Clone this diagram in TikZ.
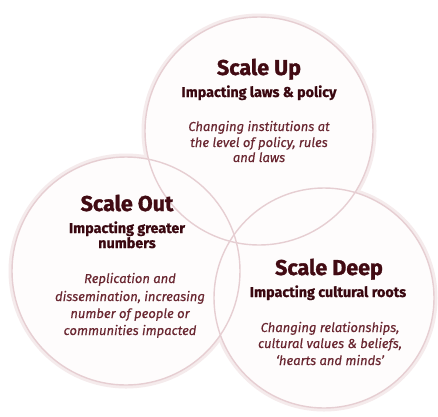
\documentclass[tikz,border=0pt]{standalone}
\usepackage{fontspec}
\setmainfont{Fira Sans}
\newfontfamily\ttlfont{Fira Sans}[FakeBold=1.3]
\newfontfamily\subfont{Fira Sans}[FakeBold=0.8]
\newfontfamily\itfont{Fira Sans}[FakeBold=0.3]
\definecolor{ringc}{HTML}{E6CED2}
\definecolor{glowc}{HTML}{F5EBEC}
\definecolor{fillc}{HTML}{FEFCFC}
\definecolor{titlec}{HTML}{420B13}
\definecolor{subc}{HTML}{3A0810}
\definecolor{itc}{HTML}{6A2731}
\begin{document}
\begin{tikzpicture}[x=1pt,y=-1pt,
  ring/.style={draw=ringc,line width=1.4pt},
  glow/.style={draw=glowc,line width=4pt},
  ttl/.style={font=\ttlfont\bfseries\fontsize{21.5}{22}\selectfont,text=titlec,inner sep=0pt,anchor=base},
  sub/.style={font=\subfont\bfseries\fontsize{14.3}{15}\selectfont,text=subc,inner sep=0pt,anchor=base,align=center},
  itl/.style={font=\itfont\itshape\fontsize{13}{16.8}\selectfont,text=itc,inner sep=0pt,anchor=base,align=center}]
\useasboundingbox[fill=white] (0,0) rectangle (438,416);
% circles
\coordinate (cu) at (259,131);
\coordinate (co) at (126,271);
\coordinate (cd) at (324,298);
\foreach \c/\r in {cu/114,co/114,cd/110}{
  \draw[glow] (\c) circle[radius=\r+1.5];
}
\foreach \c/\r in {cu/114,co/114,cd/110}{
  \fill[fillc] (\c) circle[radius=\r];
}
\foreach \c/\r in {cu/114,co/114,cd/110}{
  \draw[ring] (\c) circle[radius=\r];
}
% Scale Up
\node[ttl] (tu) at (259,75) {Scale Up};
\node[sub] (su) at (259,97) {Impacting laws \& policy};
\node[itl] (iu) at (259,131) {Changing institutions at};
\node[itl] (iu2) at (259,147) {the level of policy, rules};
\node[itl] (iu3) at (259,162) {and laws};
% Scale Out
\node[ttl] (to) at (127,211) {Scale Out};
\node[sub] (so) at (127,233) {Impacting greater};
\node[sub] (so2) at (127,248) {numbers};
\node[itl] (io) at (130,283) {Replication and};
\node[itl] (io2) at (130,301) {dissemination, increasing};
\node[itl] (io3) at (130,318) {number of people or};
\node[itl] (io4) at (130,335) {communities impacted};
% Scale Deep
\node[ttl] (td) at (329,275) {Scale Deep};
\node[sub] (sd) at (328,297) {Impacting cultural roots};
\node[itl] (id) at (330,332) {Changing relationships,};
\node[itl] (id2) at (330,348) {cultural values \& beliefs,};
\node[itl] (id3) at (330,365) {‘hearts and minds’};
\end{tikzpicture}
\end{document}
